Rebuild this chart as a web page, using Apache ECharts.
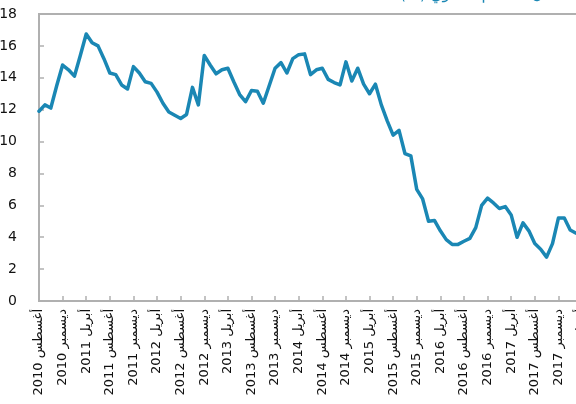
<!DOCTYPE html>
<html>
<head>
<meta charset="utf-8">
<script src="https://cdn.jsdelivr.net/npm/echarts@6/dist/echarts.min.js"></script>
<style>
html,body{margin:0;padding:0;background:#fff;}
#c{width:576px;height:404px;}
</style>
</head>
<body>
<div id="c"></div>
<script>
// Arabic month names (January..December)
const monthNames = ['يناير','فبراير','مارس','أبريل','مايو','يونيو','يوليو','أغسطس','سبتمبر','أكتوبر','نوفمبر','ديسمبر'];
const startYear = 2010;
const startMonth = 8; // August
// monthly values, Aug 2010 .. Apr 2018
const values = [
  11.9, 12.3, 12.1, 13.5, 14.8, 14.5, 14.1, 15.4, 16.75, 16.2, 16.0, 15.2,
  14.3, 14.2, 13.55, 13.3, 14.7, 14.3, 13.75, 13.65, 13.1, 12.4, 11.85, 11.65,
  11.45, 11.7, 13.4, 12.3, 15.4, 14.8, 14.25, 14.5, 14.6, 13.75, 12.95, 12.5,
  13.2, 13.15, 12.4, 13.5, 14.6, 14.95, 14.3, 15.2, 15.45, 15.5, 14.2, 14.5,
  14.6, 13.9, 13.7, 13.55, 15.0, 13.8, 14.6, 13.6, 13.0, 13.6, 12.3, 11.3,
  10.4, 10.7, 9.25, 9.1, 7.0, 6.4, 5.0, 5.05, 4.4, 3.85, 3.55, 3.55,
  3.75, 3.93, 4.6, 6.0, 6.45, 6.15, 5.8, 5.92, 5.4, 4.0, 4.9, 4.4,
  3.6, 3.25, 2.75, 3.6, 5.2, 5.2, 4.45, 4.25, 4.1
];
const yTicks = {min: 0, max: 18, interval: 2};
const titleText = '(%) معدل التضخم السنوي';

const categories = values.map((v, i) => {
  const m = (startMonth - 1 + i) % 12;
  const y = startYear + Math.floor((startMonth - 1 + i) / 12);
  return y + ' ' + monthNames[m];
});

const lineColor = '#1a87b4';
const axisColor = '#b0b0b0';
const chart = echarts.init(document.getElementById('c'), null, {renderer: 'canvas'});
chart.setOption({
  animation: false,
  grid: {
    left: 39, top: 14, width: 543, height: 287,
    containLabel: false, outerBoundsMode: 'none',
    show: true, borderColor: axisColor, borderWidth: 2, backgroundColor: 'transparent'
  },
  graphic: [{
    type: 'text', left: 400, top: -12,
    style: {text: titleText, fill: lineColor, font: '15px "DejaVu Sans"'}
  }],
  xAxis: {
    type: 'category',
    data: categories,
    boundaryGap: false,
    axisLine: {show: true, lineStyle: {color: axisColor, width: 2}},
    axisTick: {show: true, inside: true, length: 5, interval: 3, lineStyle: {color: axisColor, width: 1.5}},
    axisLabel: {
      interval: 3, rotate: 90, margin: 8, hideOverlap: false,
      fontSize: 13, fontFamily: 'DejaVu Sans', color: '#111'
    },
    splitLine: {show: false}
  },
  yAxis: {
    type: 'value',
    min: yTicks.min, max: yTicks.max, interval: yTicks.interval,
    axisLine: {show: true, lineStyle: {color: axisColor, width: 2}},
    axisTick: {show: true, inside: true, length: 5, lineStyle: {color: axisColor, width: 1.5}},
    axisLabel: {margin: 22, fontSize: 14, fontFamily: 'DejaVu Sans', color: '#111'},
    splitLine: {show: false}
  },
  series: [{
    type: 'line',
    data: values,
    symbol: 'none',
    smooth: false,
    lineStyle: {color: lineColor, width: 3.5, join: 'round', cap: 'round'},
    clip: false
  }]
});
</script>
</body>
</html>
